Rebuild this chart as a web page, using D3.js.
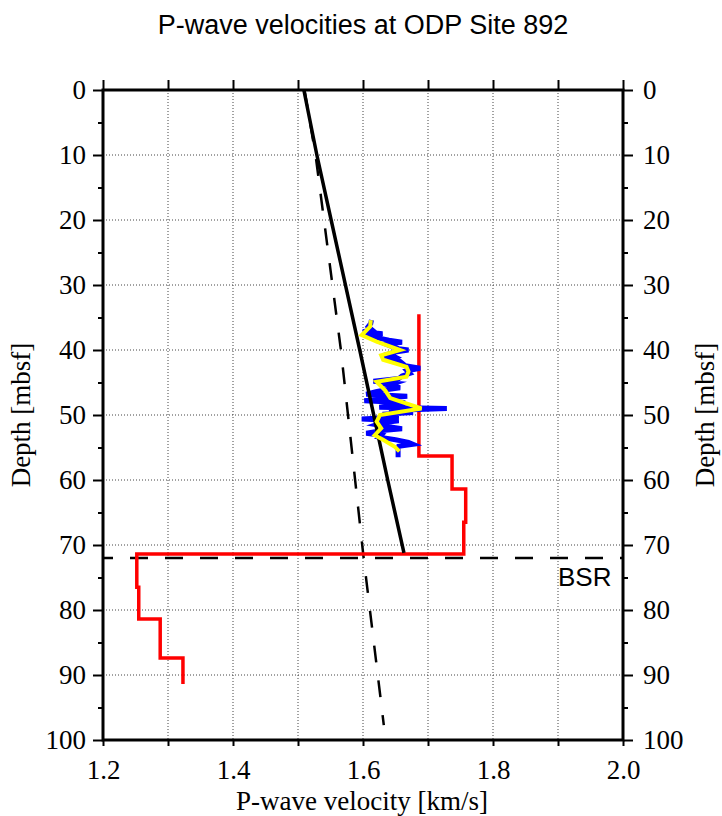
<!DOCTYPE html>
<html>
<head>
<meta charset="utf-8">
<script src="https://cdn.jsdelivr.net/npm/d3@7"></script>
<style>
  body { margin: 0; background: #ffffff; }
  svg text { fill: #000; }
</style>
</head>
<body>
<div id="chart"></div>
<script>
const w = 722;
const h = 816;

// depth ticks [mbsf] and velocity ticks [km/s]
const depthTicks = d3.range(0, 101, 10);
const depthMinor = d3.range(5, 100, 10);
const velTicks = [1.2, 1.3, 1.4, 1.5, 1.6, 1.7, 1.8, 1.9, 2.0];
const velLabels = [1.2, 1.4, 1.6, 1.8, 2.0];

// model curves: [depth, velocity]
const modelSolid = [[0, 1.509], [10, 1.529], [20, 1.551], [40, 1.595], [60, 1.638], [71.2, 1.663]];
const modelDashed = [[0, 1.510], [10, 1.527], [40, 1.566], [72, 1.601], [97.7, 1.632]];

// interval velocities (red step line): [depth, velocity]
const stepLine = [
  [34.5, 1.686], [56.3, 1.686], [56.3, 1.737], [61.4, 1.737], [61.4, 1.758],
  [66.5, 1.758], [66.5, 1.755], [71.4, 1.755], [71.4, 1.252], [76.5, 1.252],
  [76.5, 1.255], [81.4, 1.255], [81.4, 1.288], [87.4, 1.288], [87.4, 1.323], [91.4, 1.323]
];

// sonic log (blue): [depth, velocity]
const logRaw = [
  [35.4, 1.613], [35.9, 1.612], [36.4, 1.608], [36.9, 1.614], [37.2, 1.600], [37.5, 1.630],
  [37.8, 1.612], [38.2, 1.625], [38.5, 1.640], [38.8, 1.660], [39.1, 1.635], [39.5, 1.645],
  [39.8, 1.655], [40.0, 1.670], [40.3, 1.650], [40.6, 1.640], [41.0, 1.648], [41.3, 1.630],
  [41.6, 1.655], [42.0, 1.660], [42.4, 1.665], [42.8, 1.688], [43.2, 1.668], [43.6, 1.672],
  [44.0, 1.660], [44.4, 1.655], [44.8, 1.616], [45.1, 1.649], [45.4, 1.640], [45.8, 1.657],
  [46.1, 1.635], [46.4, 1.620], [46.8, 1.605], [47.1, 1.668], [47.4, 1.640], [47.8, 1.602],
  [48.1, 1.665], [48.5, 1.650], [48.8, 1.625], [49.0, 1.729], [49.3, 1.640], [49.6, 1.677],
  [49.9, 1.630], [50.3, 1.655], [50.6, 1.598], [50.9, 1.655], [51.2, 1.630], [51.5, 1.621],
  [51.8, 1.640], [52.1, 1.660], [52.4, 1.630], [52.8, 1.605], [53.1, 1.628], [53.4, 1.625],
  [53.8, 1.650], [54.2, 1.670], [54.5, 1.677], [54.8, 1.655], [55.2, 1.654], [55.6, 1.654],
  [56.1, 1.654], [56.5, 1.654]
];

// smoothed log (yellow): [depth, velocity]
const logSmooth = [
  [35.4, 1.612], [36.4, 1.611], [37.7, 1.598], [38.7, 1.621], [40.0, 1.657], [40.8, 1.628],
  [41.5, 1.631], [42.6, 1.667], [43.3, 1.670], [44.1, 1.667], [44.9, 1.621], [46.2, 1.634],
  [47.4, 1.642], [49.0, 1.690], [50.0, 1.626], [51.0, 1.621], [52.05, 1.628], [53.1, 1.618],
  [53.8, 1.631], [54.9, 1.649], [55.6, 1.656]
];

const bsrDepth = 72;

const svg = d3.select("#chart").append("svg")
  .attr("width", w).attr("height", h)
  .style("background-color", "#ffffff");

const x = d3.scaleLinear().domain([1.2, 2.0]).range([103, 623]);
const y = d3.scaleLinear().domain([0, 100]).range([90, 740]);

const serif = "'Liberation Serif', 'Times New Roman', serif";
const sans = "'Liberation Sans', Helvetica, Arial, sans-serif";

// grid
const grid = svg.append("g").attr("stroke", "#444").attr("stroke-width", 1).attr("stroke-dasharray", "1,2");
grid.selectAll("line.v").data(velTicks.slice(1, -1)).join("line")
  .attr("x1", d => x(d)).attr("x2", d => x(d)).attr("y1", y(0)).attr("y2", y(100));
grid.selectAll("line.h").data(depthTicks.slice(1, -1)).join("line")
  .attr("x1", x(1.2)).attr("x2", x(2.0)).attr("y1", d => y(d)).attr("y2", d => y(d));

const line = d3.line().x(d => x(d[1])).y(d => y(d[0]));

// dashed model
svg.append("path").datum(modelDashed).attr("d", line)
  .attr("fill", "none").attr("stroke", "#000").attr("stroke-width", 2.5)
  .attr("stroke-dasharray", "17,18");

// BSR
svg.append("line")
  .attr("x1", x(1.2)).attr("x2", x(2.0)).attr("y1", y(bsrDepth)).attr("y2", y(bsrDepth))
  .attr("stroke", "#000").attr("stroke-width", 2.5)
  .attr("stroke-dasharray", "18,17").attr("stroke-dashoffset", 8);

// red step line
svg.append("path").datum(stepLine).attr("d", line)
  .attr("fill", "none").attr("stroke", "#ff0000").attr("stroke-width", 3.5)
  .attr("stroke-linejoin", "miter");

// blue log
svg.append("path").datum(logRaw).attr("d", line)
  .attr("fill", "none").attr("stroke", "#0000ff").attr("stroke-width", 5)
  .attr("stroke-linejoin", "miter").attr("stroke-miterlimit", 5);

// solid model
svg.append("path").datum(modelSolid).attr("d", line)
  .attr("fill", "none").attr("stroke", "#000").attr("stroke-width", 3.5);

// yellow smoothed
svg.append("path").datum(logSmooth).attr("d", line)
  .attr("fill", "none").attr("stroke", "#ffff00").attr("stroke-width", 4)
  .attr("stroke-linejoin", "miter").attr("stroke-miterlimit", 4);

svg.append("text").attr("x", 558).attr("y", y(bsrDepth) + 28)
  .attr("font-family", sans).attr("font-size", 26).text("BSR");

// axes
function styleAxis(g) {
  g.select(".domain").remove();
  g.selectAll(".tick line").attr("stroke", "#000").attr("stroke-width", 2);
  g.selectAll(".tick text").attr("font-family", serif).attr("font-size", 27).attr("fill", "#000");
}

svg.append("g").attr("transform", `translate(${x(1.2)},0)`)
  .call(d3.axisLeft(y).tickValues(depthTicks).tickSize(10).tickPadding(7))
  .call(styleAxis);
svg.append("g").attr("transform", `translate(${x(1.2)},0)`)
  .call(d3.axisLeft(y).tickValues(depthMinor).tickSize(5).tickFormat(""))
  .call(styleAxis);
svg.append("g").attr("transform", `translate(${x(2.0)},0)`)
  .call(d3.axisRight(y).tickValues(depthTicks).tickSize(10).tickPadding(10))
  .call(styleAxis);
svg.append("g").attr("transform", `translate(${x(2.0)},0)`)
  .call(d3.axisRight(y).tickValues(depthMinor).tickSize(5).tickFormat(""))
  .call(styleAxis);
svg.append("g").attr("transform", `translate(0,${y(0)})`)
  .call(d3.axisTop(x).tickValues(velTicks).tickSize(10).tickFormat(""))
  .call(styleAxis);
svg.append("g").attr("transform", `translate(0,${y(100)})`)
  .call(d3.axisBottom(x).tickValues(velTicks).tickSize(6).tickPadding(14)
    .tickFormat(d => velLabels.some(v => Math.abs(v - d) < 1e-9) ? d3.format(".1f")(d) : ""))
  .call(styleAxis);

// frame
svg.append("rect")
  .attr("x", x(1.2)).attr("y", y(0)).attr("width", x(2.0) - x(1.2)).attr("height", y(100) - y(0))
  .attr("fill", "none").attr("stroke", "#000").attr("stroke-width", 3);

// titles
svg.append("text").attr("x", 363).attr("y", 34).attr("text-anchor", "middle")
  .attr("font-family", sans).attr("font-size", 27).text("P-wave velocities at ODP Site 892");
svg.append("text").attr("x", 362).attr("y", 810).attr("text-anchor", "middle")
  .attr("font-family", serif).attr("font-size", 27).text("P-wave velocity [km/s]");
svg.append("text").attr("transform", `translate(30,${y(50)}) rotate(-90)`).attr("text-anchor", "middle")
  .attr("font-family", serif).attr("font-size", 27).text("Depth [mbsf]");
svg.append("text").attr("transform", `translate(714,${y(50)}) rotate(-90)`).attr("text-anchor", "middle")
  .attr("font-family", serif).attr("font-size", 27).text("Depth [mbsf]");
</script>
</body>
</html>
